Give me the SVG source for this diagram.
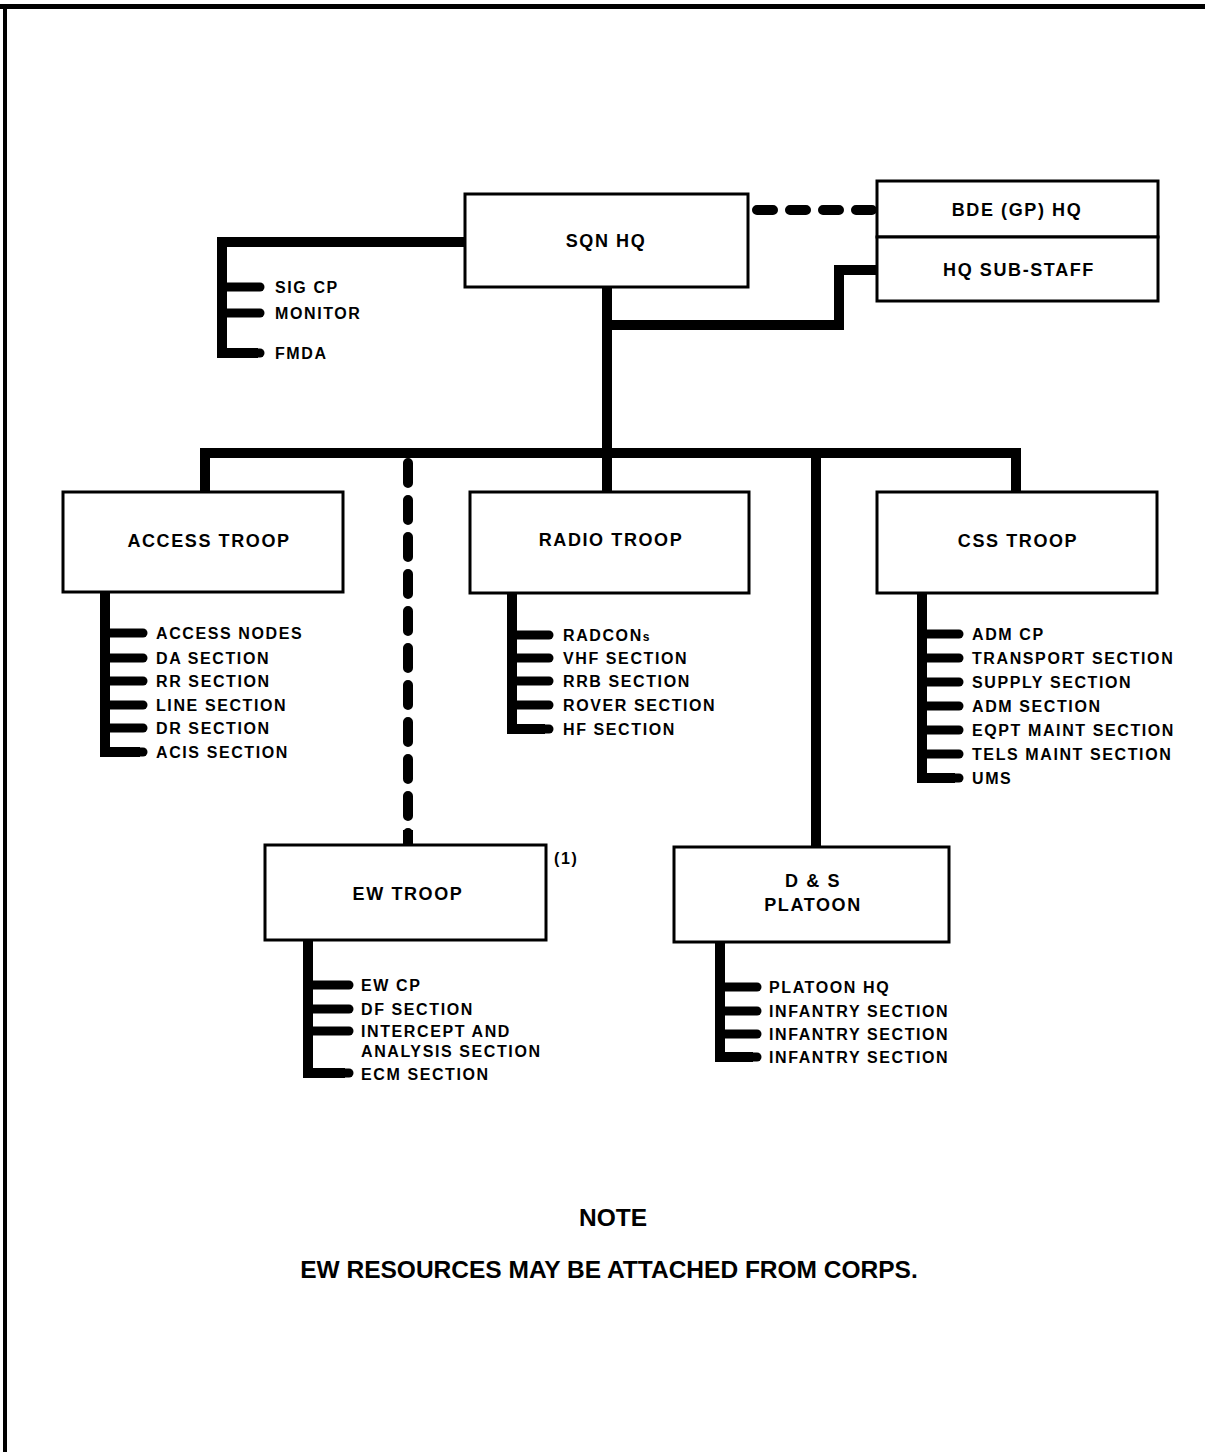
<svg xmlns="http://www.w3.org/2000/svg" width="1205" height="1452" viewBox="0 0 1205 1452">
<style>
  .box{fill:#fff;stroke:#000;stroke-width:3}
  .ln{fill:none;stroke:#000;stroke-width:10;stroke-linejoin:miter}
  .tk{fill:none;stroke:#000;stroke-width:9;stroke-linecap:round}
  .dash{fill:none;stroke:#000;stroke-width:10;stroke-linecap:round}
  .t{font-family:"Liberation Sans",Arial,sans-serif;font-weight:bold;fill:#000}
  .title{font-size:18px;letter-spacing:1.6px;text-anchor:middle}
  .item{font-size:16px;letter-spacing:1.6px}
  .note{font-size:24.5px;text-anchor:middle}
</style>
<rect width="1205" height="1452" fill="#fff"/>
<g id="frame">
  <line x1="0" y1="6.5" x2="1205" y2="6.5" stroke="#000" stroke-width="5"/>
  <line x1="5" y1="4" x2="5" y2="1452" stroke="#000" stroke-width="4"/>
</g>
<g id="connectors">
  <path class="ln" d="M607,287 V492"/>
  <path class="ln" d="M205,492 V453 H1016 V492"/>
  <path class="ln" d="M816,453 V847"/>
  <path class="ln" d="M607,325 H839 V270 H877"/>
  <path class="dash" d="M757,210 H877" stroke-dasharray="16 17" stroke-width="11"/>
  <path class="dash" d="M408,463 V840" stroke-dasharray="20 17"/>
  <path class="ln" d="M408,830 V845"/>
  <!-- SQN HQ staff -->
  <path class="ln" d="M464,242 H222 V353 H258"/>
  <line class="tk" x1="222" y1="353" x2="260" y2="353"/>
  <line class="tk" x1="222" y1="287" x2="260" y2="287"/>
  <line class="tk" x1="222" y1="313" x2="260" y2="313"/>
  <!-- Access troop list -->
  <path class="ln" d="M105,592 V752 H140"/>
  <line class="tk" x1="105" y1="633" x2="143" y2="633"/>
  <line class="tk" x1="105" y1="658" x2="143" y2="658"/>
  <line class="tk" x1="105" y1="681" x2="143" y2="681"/>
  <line class="tk" x1="105" y1="705" x2="143" y2="705"/>
  <line class="tk" x1="105" y1="728" x2="143" y2="728"/>
  <line class="tk" x1="105" y1="752" x2="143" y2="752"/>
  <!-- Radio troop list -->
  <path class="ln" d="M512,593 V729 H545"/>
  <line class="tk" x1="512" y1="635" x2="549" y2="635"/>
  <line class="tk" x1="512" y1="658" x2="549" y2="658"/>
  <line class="tk" x1="512" y1="681" x2="549" y2="681"/>
  <line class="tk" x1="512" y1="705" x2="549" y2="705"/>
  <line class="tk" x1="512" y1="729" x2="549" y2="729"/>
  <!-- CSS troop list -->
  <path class="ln" d="M922,593 V778 H955"/>
  <line class="tk" x1="922" y1="634" x2="959" y2="634"/>
  <line class="tk" x1="922" y1="658" x2="959" y2="658"/>
  <line class="tk" x1="922" y1="682" x2="959" y2="682"/>
  <line class="tk" x1="922" y1="706" x2="959" y2="706"/>
  <line class="tk" x1="922" y1="730" x2="959" y2="730"/>
  <line class="tk" x1="922" y1="754" x2="959" y2="754"/>
  <line class="tk" x1="922" y1="778" x2="959" y2="778"/>
  <!-- EW troop list -->
  <path class="ln" d="M308,940 V1073 H345"/>
  <line class="tk" x1="308" y1="985" x2="349" y2="985"/>
  <line class="tk" x1="308" y1="1009" x2="349" y2="1009"/>
  <line class="tk" x1="308" y1="1031" x2="349" y2="1031"/>
  <line class="tk" x1="308" y1="1073" x2="349" y2="1073"/>
  <!-- D&S list -->
  <path class="ln" d="M720,942 V1057 H753"/>
  <line class="tk" x1="720" y1="987" x2="757" y2="987"/>
  <line class="tk" x1="720" y1="1011" x2="757" y2="1011"/>
  <line class="tk" x1="720" y1="1034" x2="757" y2="1034"/>
  <line class="tk" x1="720" y1="1057" x2="757" y2="1057"/>
</g>
<g id="sqn-hq">
  <rect class="box" x="465" y="194" width="283" height="93"/>
  <text class="t title" x="606" y="247">SQN HQ</text>
</g>
<g id="bde-gp-hq">
  <rect class="box" x="877" y="181" width="281" height="56"/>
  <text class="t title" x="1017" y="216">BDE (GP) HQ</text>
</g>
<g id="hq-sub-staff">
  <rect class="box" x="877" y="237" width="281" height="64"/>
  <text class="t title" x="1019" y="276">HQ SUB-STAFF</text>
</g>
<g id="sqn-staff-items">
  <text class="t item" x="275" y="293">SIG CP</text>
  <text class="t item" x="275" y="319">MONITOR</text>
  <text class="t item" x="275" y="359">FMDA</text>
</g>
<g id="access-troop">
  <rect class="box" x="63" y="492" width="280" height="100"/>
  <text class="t title" x="209" y="547">ACCESS TROOP</text>
  <text class="t item" x="156" y="639">ACCESS NODES</text>
  <text class="t item" x="156" y="664">DA SECTION</text>
  <text class="t item" x="156" y="687">RR SECTION</text>
  <text class="t item" x="156" y="711">LINE SECTION</text>
  <text class="t item" x="156" y="734">DR SECTION</text>
  <text class="t item" x="156" y="758">ACIS SECTION</text>
</g>
<g id="radio-troop">
  <rect class="box" x="470" y="492" width="279" height="101"/>
  <text class="t title" x="611" y="546">RADIO TROOP</text>
  <text class="t item" x="563" y="641">RADCON<tspan font-size="12">s</tspan></text>
  <text class="t item" x="563" y="664">VHF SECTION</text>
  <text class="t item" x="563" y="687">RRB SECTION</text>
  <text class="t item" x="563" y="711">ROVER SECTION</text>
  <text class="t item" x="563" y="735">HF SECTION</text>
</g>
<g id="css-troop">
  <rect class="box" x="877" y="492" width="280" height="101"/>
  <text class="t title" x="1018" y="547">CSS TROOP</text>
  <text class="t item" x="972" y="640">ADM CP</text>
  <text class="t item" x="972" y="664">TRANSPORT SECTION</text>
  <text class="t item" x="972" y="688">SUPPLY SECTION</text>
  <text class="t item" x="972" y="712">ADM SECTION</text>
  <text class="t item" x="972" y="736">EQPT MAINT SECTION</text>
  <text class="t item" x="972" y="760">TELS MAINT SECTION</text>
  <text class="t item" x="972" y="784">UMS</text>
</g>
<g id="ew-troop">
  <rect class="box" x="265" y="845" width="281" height="95"/>
  <text class="t title" x="408" y="900">EW TROOP</text>
  <text class="t item" x="554" y="864">(1)</text>
  <text class="t item" x="361" y="991">EW CP</text>
  <text class="t item" x="361" y="1015">DF SECTION</text>
  <text class="t item" x="361" y="1037">INTERCEPT AND</text>
  <text class="t item" x="361" y="1057">ANALYSIS SECTION</text>
  <text class="t item" x="361" y="1080">ECM SECTION</text>
</g>
<g id="ds-platoon">
  <rect class="box" x="674" y="847" width="275" height="95"/>
  <text class="t title" x="813" y="887">D &amp; S</text>
  <text class="t title" x="813" y="911">PLATOON</text>
  <text class="t item" x="769" y="993">PLATOON HQ</text>
  <text class="t item" x="769" y="1017">INFANTRY SECTION</text>
  <text class="t item" x="769" y="1040">INFANTRY SECTION</text>
  <text class="t item" x="769" y="1063">INFANTRY SECTION</text>
</g>
<g id="note">
  <text class="t note" x="613" y="1226">NOTE</text>
  <text class="t note" x="609" y="1278">EW RESOURCES MAY BE ATTACHED FROM CORPS.</text>
</g>
</svg>
